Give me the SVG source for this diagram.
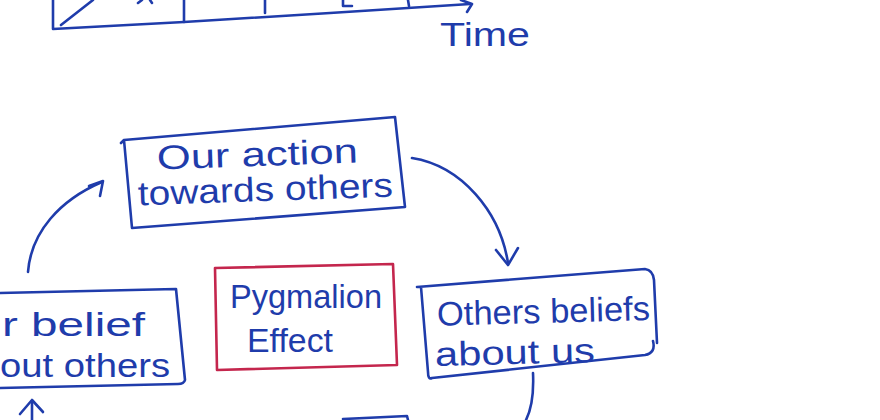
<svg xmlns="http://www.w3.org/2000/svg" width="880" height="420" viewBox="0 0 880 420">
<style>
.ink{fill:none;stroke:#1f3cab;stroke-width:2.6;stroke-linecap:round;stroke-linejoin:round}
.red{fill:none;stroke:#c4264d;stroke-width:2.6;stroke-linecap:round;stroke-linejoin:round}
.t{font-family:"Liberation Sans","DejaVu Sans",sans-serif;fill:#1f3cab;font-size:34px}
</style>
<rect width="880" height="420" fill="#ffffff"/>
<g id="timeline">
<path class="ink" d="M53,0 L53,29 L184,22 L330,13 L470,4"/>
<path class="ink" d="M61,25 L93,0"/>
<path class="ink" d="M184,0 L184,22"/>
<path class="ink" d="M265,0 L265,13"/>
<path class="ink" d="M343,0 L343,6 L352,6"/>
<path class="ink" d="M408,0 L409,6"/>
<path class="ink" d="M138,3 L142,0 M150,0 L152,3"/>
<path class="ink" d="M461,0 L472,4 L467,12"/>
<text class="t" x="440" y="46" font-size="30" textLength="90" lengthAdjust="spacingAndGlyphs">Time</text>
</g>
<g id="connectors">
<path class="ink" d="M412,158 C462,166 500,212 508,263"/>
<path class="ink" d="M496,250 L508,265 L518,248"/>
<path class="ink" d="M28,272 C31,232 60,200 102,182"/>
<path class="ink" d="M89,186 L103,181 L100,196"/>
<path class="ink" d="M32,420 L32,401"/>
<path class="ink" d="M20,414 L32,400 L43,412"/>
<path class="ink" d="M533,373 C534,395 531,410 526,420"/>
</g>
<g id="node-action">
<path class="ink" d="M121,143 L124,140 L395,117 L405,207 L132,228 L124,140"/>
<text class="t" x="157" y="166" textLength="201" lengthAdjust="spacingAndGlyphs" transform="rotate(-2 258 160)">Our action</text>
<text class="t" x="138" y="201" textLength="255" lengthAdjust="spacingAndGlyphs" transform="rotate(-2 265 195)">towards others</text>
</g>
<g id="node-pygmalion">
<path class="red" d="M215,268 L393,264 L397,365 L217,370 Z"/>
<text class="t" x="230" y="308" font-size="36" textLength="152" lengthAdjust="spacingAndGlyphs">Pygmalion</text>
<text class="t" x="247" y="352" font-size="36" textLength="86" lengthAdjust="spacingAndGlyphs">Effect</text>
</g>
<g id="node-others-beliefs">
<path class="ink" d="M417,287 L645,269 Q653,270 654,280 L657,343 M653,341 Q656,353 645,355 L432,378 Q428,380 428,372 L421,287"/>
<text class="t" x="437" y="323" textLength="213" lengthAdjust="spacingAndGlyphs" transform="rotate(-1.5 540 315)">Others beliefs</text>
<text class="t" x="435" y="364" textLength="160" lengthAdjust="spacingAndGlyphs" transform="rotate(-1.5 515 355)">about us</text>
</g>
<g id="node-our-belief">
<path class="ink" d="M0,293 L176,289 L185,380 Q184,384 178,384 L0,388"/>
<text class="t" x="2" y="336" textLength="143" lengthAdjust="spacingAndGlyphs">r belief</text>
<text class="t" x="0" y="377" textLength="170" lengthAdjust="spacingAndGlyphs">out others</text>
</g>
<g id="node-bottom">
<path class="ink" d="M343,419 L407,416 L408,420"/>
</g>
</svg>
